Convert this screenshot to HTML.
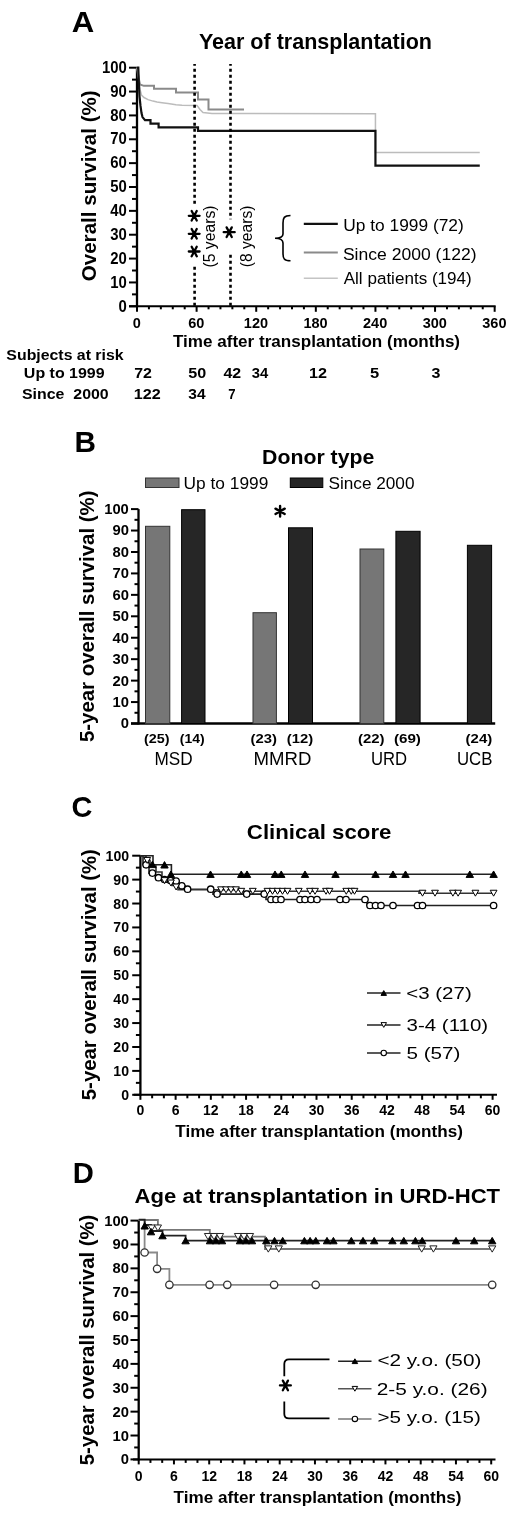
<!DOCTYPE html>
<html><head><meta charset="utf-8"><title>Figure</title><style>html,body{margin:0;padding:0;background:#fff;overflow:hidden}svg{display:block;filter:grayscale(1) blur(0.35px)}text{font-family:"Liberation Sans",sans-serif}</style></head><body>
<svg width="520" height="1515" viewBox="0 0 520 1515">
<rect width="520" height="1515" fill="#fff"/>
<text x="71.73" y="32.10" font-size="30.2" font-weight="bold" textLength="22.51" lengthAdjust="spacingAndGlyphs">A</text>
<text x="198.92" y="49.40" font-size="21.5" font-weight="bold" textLength="233.11" lengthAdjust="spacingAndGlyphs">Year of transplantation</text>
<line x1="137.00" y1="67.70" x2="137.00" y2="307.30" stroke="#000" stroke-width="2.3"/>
<line x1="129.00" y1="306.30" x2="137.00" y2="306.30" stroke="#000" stroke-width="2"/>
<text x="118.53" y="311.50" font-size="16" font-weight="bold" textLength="8.28" lengthAdjust="spacingAndGlyphs">0</text>
<line x1="132.00" y1="294.37" x2="137.00" y2="294.37" stroke="#000" stroke-width="2"/>
<line x1="129.00" y1="282.44" x2="137.00" y2="282.44" stroke="#000" stroke-width="2"/>
<text x="110.27" y="287.64" font-size="16" font-weight="bold" textLength="16.55" lengthAdjust="spacingAndGlyphs">10</text>
<line x1="132.00" y1="270.51" x2="137.00" y2="270.51" stroke="#000" stroke-width="2"/>
<line x1="129.00" y1="258.58" x2="137.00" y2="258.58" stroke="#000" stroke-width="2"/>
<text x="110.27" y="263.78" font-size="16" font-weight="bold" textLength="16.55" lengthAdjust="spacingAndGlyphs">20</text>
<line x1="132.00" y1="246.65" x2="137.00" y2="246.65" stroke="#000" stroke-width="2"/>
<line x1="129.00" y1="234.72" x2="137.00" y2="234.72" stroke="#000" stroke-width="2"/>
<text x="110.27" y="239.92" font-size="16" font-weight="bold" textLength="16.55" lengthAdjust="spacingAndGlyphs">30</text>
<line x1="132.00" y1="222.79" x2="137.00" y2="222.79" stroke="#000" stroke-width="2"/>
<line x1="129.00" y1="210.86" x2="137.00" y2="210.86" stroke="#000" stroke-width="2"/>
<text x="110.27" y="216.06" font-size="16" font-weight="bold" textLength="16.55" lengthAdjust="spacingAndGlyphs">40</text>
<line x1="132.00" y1="198.93" x2="137.00" y2="198.93" stroke="#000" stroke-width="2"/>
<line x1="129.00" y1="187.00" x2="137.00" y2="187.00" stroke="#000" stroke-width="2"/>
<text x="110.27" y="192.20" font-size="16" font-weight="bold" textLength="16.55" lengthAdjust="spacingAndGlyphs">50</text>
<line x1="132.00" y1="175.07" x2="137.00" y2="175.07" stroke="#000" stroke-width="2"/>
<line x1="129.00" y1="163.14" x2="137.00" y2="163.14" stroke="#000" stroke-width="2"/>
<text x="110.27" y="168.34" font-size="16" font-weight="bold" textLength="16.55" lengthAdjust="spacingAndGlyphs">60</text>
<line x1="132.00" y1="151.21" x2="137.00" y2="151.21" stroke="#000" stroke-width="2"/>
<line x1="129.00" y1="139.28" x2="137.00" y2="139.28" stroke="#000" stroke-width="2"/>
<text x="110.27" y="144.48" font-size="16" font-weight="bold" textLength="16.55" lengthAdjust="spacingAndGlyphs">70</text>
<line x1="132.00" y1="127.35" x2="137.00" y2="127.35" stroke="#000" stroke-width="2"/>
<line x1="129.00" y1="115.42" x2="137.00" y2="115.42" stroke="#000" stroke-width="2"/>
<text x="110.27" y="120.62" font-size="16" font-weight="bold" textLength="16.55" lengthAdjust="spacingAndGlyphs">80</text>
<line x1="132.00" y1="103.49" x2="137.00" y2="103.49" stroke="#000" stroke-width="2"/>
<line x1="129.00" y1="91.56" x2="137.00" y2="91.56" stroke="#000" stroke-width="2"/>
<text x="110.27" y="96.76" font-size="16" font-weight="bold" textLength="16.55" lengthAdjust="spacingAndGlyphs">90</text>
<line x1="132.00" y1="79.63" x2="137.00" y2="79.63" stroke="#000" stroke-width="2"/>
<line x1="129.00" y1="67.70" x2="137.00" y2="67.70" stroke="#000" stroke-width="2"/>
<text x="102.02" y="72.90" font-size="16" font-weight="bold" textLength="24.83" lengthAdjust="spacingAndGlyphs">100</text>
<line x1="129.00" y1="306.30" x2="495.66" y2="306.30" stroke="#000" stroke-width="2"/>
<line x1="137.00" y1="306.30" x2="137.00" y2="311.80" stroke="#000" stroke-width="2"/>
<text x="136.70" y="327.60" font-size="14.5" font-weight="bold" text-anchor="middle">0</text>
<line x1="148.92" y1="306.30" x2="148.92" y2="309.30" stroke="#000" stroke-width="2"/>
<line x1="160.84" y1="306.30" x2="160.84" y2="309.30" stroke="#000" stroke-width="2"/>
<line x1="172.77" y1="306.30" x2="172.77" y2="309.30" stroke="#000" stroke-width="2"/>
<line x1="184.69" y1="306.30" x2="184.69" y2="309.30" stroke="#000" stroke-width="2"/>
<line x1="196.61" y1="306.30" x2="196.61" y2="311.80" stroke="#000" stroke-width="2"/>
<text x="196.31" y="327.60" font-size="14.5" font-weight="bold" text-anchor="middle">60</text>
<line x1="208.53" y1="306.30" x2="208.53" y2="309.30" stroke="#000" stroke-width="2"/>
<line x1="220.45" y1="306.30" x2="220.45" y2="309.30" stroke="#000" stroke-width="2"/>
<line x1="232.38" y1="306.30" x2="232.38" y2="309.30" stroke="#000" stroke-width="2"/>
<line x1="244.30" y1="306.30" x2="244.30" y2="309.30" stroke="#000" stroke-width="2"/>
<line x1="256.22" y1="306.30" x2="256.22" y2="311.80" stroke="#000" stroke-width="2"/>
<text x="255.92" y="327.60" font-size="14.5" font-weight="bold" text-anchor="middle">120</text>
<line x1="268.14" y1="306.30" x2="268.14" y2="309.30" stroke="#000" stroke-width="2"/>
<line x1="280.06" y1="306.30" x2="280.06" y2="309.30" stroke="#000" stroke-width="2"/>
<line x1="291.99" y1="306.30" x2="291.99" y2="309.30" stroke="#000" stroke-width="2"/>
<line x1="303.91" y1="306.30" x2="303.91" y2="309.30" stroke="#000" stroke-width="2"/>
<line x1="315.83" y1="306.30" x2="315.83" y2="311.80" stroke="#000" stroke-width="2"/>
<text x="315.53" y="327.60" font-size="14.5" font-weight="bold" text-anchor="middle">180</text>
<line x1="327.75" y1="306.30" x2="327.75" y2="309.30" stroke="#000" stroke-width="2"/>
<line x1="339.67" y1="306.30" x2="339.67" y2="309.30" stroke="#000" stroke-width="2"/>
<line x1="351.60" y1="306.30" x2="351.60" y2="309.30" stroke="#000" stroke-width="2"/>
<line x1="363.52" y1="306.30" x2="363.52" y2="309.30" stroke="#000" stroke-width="2"/>
<line x1="375.44" y1="306.30" x2="375.44" y2="311.80" stroke="#000" stroke-width="2"/>
<text x="375.14" y="327.60" font-size="14.5" font-weight="bold" text-anchor="middle">240</text>
<line x1="387.36" y1="306.30" x2="387.36" y2="309.30" stroke="#000" stroke-width="2"/>
<line x1="399.28" y1="306.30" x2="399.28" y2="309.30" stroke="#000" stroke-width="2"/>
<line x1="411.21" y1="306.30" x2="411.21" y2="309.30" stroke="#000" stroke-width="2"/>
<line x1="423.13" y1="306.30" x2="423.13" y2="309.30" stroke="#000" stroke-width="2"/>
<line x1="435.05" y1="306.30" x2="435.05" y2="311.80" stroke="#000" stroke-width="2"/>
<text x="434.75" y="327.60" font-size="14.5" font-weight="bold" text-anchor="middle">300</text>
<line x1="446.97" y1="306.30" x2="446.97" y2="309.30" stroke="#000" stroke-width="2"/>
<line x1="458.89" y1="306.30" x2="458.89" y2="309.30" stroke="#000" stroke-width="2"/>
<line x1="470.82" y1="306.30" x2="470.82" y2="309.30" stroke="#000" stroke-width="2"/>
<line x1="482.74" y1="306.30" x2="482.74" y2="309.30" stroke="#000" stroke-width="2"/>
<line x1="494.66" y1="306.30" x2="494.66" y2="311.80" stroke="#000" stroke-width="2"/>
<text x="494.36" y="327.60" font-size="14.5" font-weight="bold" text-anchor="middle">360</text>
<text x="172.97" y="346.50" font-size="16.5" font-weight="bold" textLength="287.10" lengthAdjust="spacingAndGlyphs">Time after transplantation (months)</text>
<text x="95.60" y="281.26" font-size="21" font-weight="bold" textLength="190.99" lengthAdjust="spacingAndGlyphs" transform="rotate(-90 95.60 281.26)">Overall survival (%)</text>
<polyline points="137.00,67.70 138.00,72.47 139.00,79.63 140.00,89.17 141.50,95.14 144.00,97.53 148.00,99.67 153.00,101.10 157.00,102.06 162.00,102.77 168.00,103.49 176.00,104.68 182.00,105.16 197.00,105.40 200.00,109.46 203.00,112.56 212.00,113.51 375.44,113.75 375.44,152.40 479.76,152.40" fill="none" stroke="#bcbcbc" stroke-width="1.5" stroke-linejoin="miter"/>
<polyline points="137.00,67.70 138.50,77.24 140.00,84.40 143.80,85.83 154.00,85.83 154.00,88.70 176.00,88.70 176.00,92.51 198.00,92.51 198.00,99.43 208.50,99.43 208.50,109.46 244.00,109.46" fill="none" stroke="#8a8a8a" stroke-width="2" stroke-linejoin="miter"/>
<polyline points="137.00,67.70 138.30,67.70 138.80,82.02 139.50,96.33 140.50,105.88 141.50,113.03 142.50,117.09 145.00,120.19 150.50,120.19 150.50,123.53 158.60,123.53 158.60,127.35 198.00,127.35 198.00,130.93 375.44,130.93 375.44,165.53 479.76,165.53" fill="none" stroke="#111" stroke-width="2.2" stroke-linejoin="miter"/>
<line x1="194.6" y1="305.8" x2="194.6" y2="64" stroke="#000" stroke-width="2.6" stroke-dasharray="3 3"/>
<line x1="230.5" y1="305.8" x2="230.5" y2="64" stroke="#000" stroke-width="2.6" stroke-dasharray="3 3"/>
<rect x="186" y="204" width="18" height="60.5" fill="#fff"/>
<rect x="221" y="219.3" width="16" height="34" fill="#fff"/>
<path d="M188.80,215.80 L199.60,215.80 M191.66,211.03 L196.74,220.57 M196.74,211.03 L191.66,220.57 " stroke="#000" stroke-width="2.3" stroke-linecap="round" fill="none"/>
<path d="M188.80,233.80 L199.60,233.80 M191.66,229.03 L196.74,238.57 M196.74,229.03 L191.66,238.57 " stroke="#000" stroke-width="2.3" stroke-linecap="round" fill="none"/>
<path d="M188.80,251.50 L199.60,251.50 M191.66,246.73 L196.74,256.27 M196.74,246.73 L191.66,256.27 " stroke="#000" stroke-width="2.3" stroke-linecap="round" fill="none"/>
<path d="M223.70,232.20 L234.70,232.20 M226.62,227.34 L231.78,237.06 M231.78,227.34 L226.62,237.06 " stroke="#000" stroke-width="2.3" stroke-linecap="round" fill="none"/>
<text x="215.00" y="267.48" font-size="16" textLength="61.96" lengthAdjust="spacingAndGlyphs" transform="rotate(-90 215.00 267.48)">(5 years)</text>
<text x="252.10" y="267.18" font-size="16" textLength="61.65" lengthAdjust="spacingAndGlyphs" transform="rotate(-90 252.10 267.18)">(8 years)</text>
<path d="M290.5,215.5 C284,215.5 283,218 283,223 L283,234 C283,237 280,238.2 275,238.2 C280,238.2 283,240 283,243 L283,253.5 C283,258.5 284,260.8 290.5,260.8" fill="none" stroke="#000" stroke-width="1.6"/>
<line x1="303.80" y1="223.80" x2="337.80" y2="223.80" stroke="#111" stroke-width="2.2"/>
<line x1="303.80" y1="252.50" x2="337.80" y2="252.50" stroke="#8a8a8a" stroke-width="2"/>
<line x1="303.80" y1="278.30" x2="337.80" y2="278.30" stroke="#c4c4c4" stroke-width="1.5"/>
<text x="343.20" y="231.30" font-size="16.7" textLength="120.58" lengthAdjust="spacingAndGlyphs">Up to 1999 (72)</text>
<text x="342.91" y="259.80" font-size="16.7" textLength="133.60" lengthAdjust="spacingAndGlyphs">Since 2000 (122)</text>
<text x="343.70" y="283.80" font-size="16.7" textLength="128.08" lengthAdjust="spacingAndGlyphs">All patients (194)</text>
<text x="6.38" y="359.50" font-size="15.3" font-weight="bold" textLength="117.18" lengthAdjust="spacingAndGlyphs">Subjects at risk</text>
<text x="23.89" y="377.90" font-size="15.3" font-weight="bold" textLength="80.76" lengthAdjust="spacingAndGlyphs">Up to 1999</text>
<text x="21.98" y="398.60" font-size="15.3" font-weight="bold" textLength="86.75" lengthAdjust="spacingAndGlyphs" xml:space="preserve">Since  2000</text>
<text x="134.15" y="378.20" font-size="15.3" font-weight="bold" textLength="17.72" lengthAdjust="spacingAndGlyphs">72</text>
<text x="188.22" y="378.20" font-size="15.3" font-weight="bold" textLength="17.96" lengthAdjust="spacingAndGlyphs">50</text>
<text x="223.49" y="378.20" font-size="15.3" font-weight="bold" textLength="17.68" lengthAdjust="spacingAndGlyphs">42</text>
<text x="251.64" y="378.20" font-size="15.3" font-weight="bold" textLength="16.50" lengthAdjust="spacingAndGlyphs">34</text>
<text x="308.94" y="378.20" font-size="15.3" font-weight="bold" textLength="17.99" lengthAdjust="spacingAndGlyphs">12</text>
<text x="369.96" y="378.20" font-size="15.3" font-weight="bold" textLength="9.21" lengthAdjust="spacingAndGlyphs">5</text>
<text x="431.61" y="378.20" font-size="15.3" font-weight="bold" textLength="8.93" lengthAdjust="spacingAndGlyphs">3</text>
<text x="133.74" y="398.50" font-size="15.3" font-weight="bold" textLength="26.94" lengthAdjust="spacingAndGlyphs">122</text>
<text x="188.37" y="398.50" font-size="15.3" font-weight="bold" textLength="17.28" lengthAdjust="spacingAndGlyphs">34</text>
<text x="228.21" y="398.50" font-size="15.3" font-weight="bold" textLength="7.34" lengthAdjust="spacingAndGlyphs">7</text>
<text x="74.52" y="451.70" font-size="30" font-weight="bold" textLength="21.49" lengthAdjust="spacingAndGlyphs">B</text>
<text x="262.11" y="463.50" font-size="21" font-weight="bold" textLength="112.21" lengthAdjust="spacingAndGlyphs">Donor type</text>
<rect x="145.5" y="478" width="33.5" height="9.5" fill="#767676" stroke="#333" stroke-width="1"/>
<text x="183.60" y="488.70" font-size="17" textLength="84.71" lengthAdjust="spacingAndGlyphs">Up to 1999</text>
<rect x="290.3" y="478" width="32.5" height="9.5" fill="#262626" stroke="#000" stroke-width="1"/>
<text x="328.44" y="488.70" font-size="17" textLength="86.06" lengthAdjust="spacingAndGlyphs">Since 2000</text>
<line x1="138.50" y1="509.10" x2="138.50" y2="724.50" stroke="#000" stroke-width="2.3"/>
<line x1="131.00" y1="723.50" x2="138.50" y2="723.50" stroke="#000" stroke-width="2"/>
<text x="120.68" y="728.40" font-size="14.8" font-weight="bold" textLength="8.23" lengthAdjust="spacingAndGlyphs">0</text>
<line x1="134.50" y1="712.78" x2="138.50" y2="712.78" stroke="#000" stroke-width="2"/>
<line x1="131.00" y1="702.06" x2="138.50" y2="702.06" stroke="#000" stroke-width="2"/>
<text x="112.43" y="706.96" font-size="14.8" font-weight="bold" textLength="16.46" lengthAdjust="spacingAndGlyphs">10</text>
<line x1="134.50" y1="691.34" x2="138.50" y2="691.34" stroke="#000" stroke-width="2"/>
<line x1="131.00" y1="680.62" x2="138.50" y2="680.62" stroke="#000" stroke-width="2"/>
<text x="112.43" y="685.52" font-size="14.8" font-weight="bold" textLength="16.46" lengthAdjust="spacingAndGlyphs">20</text>
<line x1="134.50" y1="669.90" x2="138.50" y2="669.90" stroke="#000" stroke-width="2"/>
<line x1="131.00" y1="659.18" x2="138.50" y2="659.18" stroke="#000" stroke-width="2"/>
<text x="112.43" y="664.08" font-size="14.8" font-weight="bold" textLength="16.46" lengthAdjust="spacingAndGlyphs">30</text>
<line x1="134.50" y1="648.46" x2="138.50" y2="648.46" stroke="#000" stroke-width="2"/>
<line x1="131.00" y1="637.74" x2="138.50" y2="637.74" stroke="#000" stroke-width="2"/>
<text x="112.43" y="642.64" font-size="14.8" font-weight="bold" textLength="16.46" lengthAdjust="spacingAndGlyphs">40</text>
<line x1="134.50" y1="627.02" x2="138.50" y2="627.02" stroke="#000" stroke-width="2"/>
<line x1="131.00" y1="616.30" x2="138.50" y2="616.30" stroke="#000" stroke-width="2"/>
<text x="112.43" y="621.20" font-size="14.8" font-weight="bold" textLength="16.46" lengthAdjust="spacingAndGlyphs">50</text>
<line x1="134.50" y1="605.58" x2="138.50" y2="605.58" stroke="#000" stroke-width="2"/>
<line x1="131.00" y1="594.86" x2="138.50" y2="594.86" stroke="#000" stroke-width="2"/>
<text x="112.43" y="599.76" font-size="14.8" font-weight="bold" textLength="16.46" lengthAdjust="spacingAndGlyphs">60</text>
<line x1="134.50" y1="584.14" x2="138.50" y2="584.14" stroke="#000" stroke-width="2"/>
<line x1="131.00" y1="573.42" x2="138.50" y2="573.42" stroke="#000" stroke-width="2"/>
<text x="112.43" y="578.32" font-size="14.8" font-weight="bold" textLength="16.46" lengthAdjust="spacingAndGlyphs">70</text>
<line x1="134.50" y1="562.70" x2="138.50" y2="562.70" stroke="#000" stroke-width="2"/>
<line x1="131.00" y1="551.98" x2="138.50" y2="551.98" stroke="#000" stroke-width="2"/>
<text x="112.43" y="556.88" font-size="14.8" font-weight="bold" textLength="16.46" lengthAdjust="spacingAndGlyphs">80</text>
<line x1="134.50" y1="541.26" x2="138.50" y2="541.26" stroke="#000" stroke-width="2"/>
<line x1="131.00" y1="530.54" x2="138.50" y2="530.54" stroke="#000" stroke-width="2"/>
<text x="112.43" y="535.44" font-size="14.8" font-weight="bold" textLength="16.46" lengthAdjust="spacingAndGlyphs">90</text>
<line x1="134.50" y1="519.82" x2="138.50" y2="519.82" stroke="#000" stroke-width="2"/>
<line x1="131.00" y1="509.10" x2="138.50" y2="509.10" stroke="#000" stroke-width="2"/>
<text x="104.18" y="514.00" font-size="14.8" font-weight="bold" textLength="24.69" lengthAdjust="spacingAndGlyphs">100</text>
<line x1="131.00" y1="723.50" x2="495.20" y2="723.50" stroke="#000" stroke-width="2.4"/>
<rect x="145.50" y="526.30" width="24.30" height="197.20" fill="#767676" stroke="#333" stroke-width="1"/>
<rect x="181.60" y="509.70" width="23.40" height="213.80" fill="#262626" stroke="#000" stroke-width="1"/>
<rect x="253.00" y="612.70" width="23.40" height="110.80" fill="#767676" stroke="#333" stroke-width="1"/>
<rect x="288.50" y="527.80" width="24.00" height="195.70" fill="#262626" stroke="#000" stroke-width="1"/>
<rect x="360.00" y="549.00" width="23.80" height="174.50" fill="#767676" stroke="#333" stroke-width="1"/>
<rect x="395.90" y="531.30" width="24.20" height="192.20" fill="#262626" stroke="#000" stroke-width="1"/>
<rect x="467.40" y="545.30" width="24.20" height="178.20" fill="#262626" stroke="#000" stroke-width="1"/>
<path d="M280.1,506.00 L280.1,516.60 M275.51,508.65 L284.69,513.95 M284.69,508.65 L275.51,513.95" stroke="#000" stroke-width="2.4" stroke-linecap="round" fill="none"/>
<text x="144.04" y="743.00" font-size="13.5" font-weight="bold" textLength="25.54" lengthAdjust="spacingAndGlyphs">(25)</text>
<text x="179.75" y="743.00" font-size="13.5" font-weight="bold" textLength="24.80" lengthAdjust="spacingAndGlyphs">(14)</text>
<text x="250.56" y="743.00" font-size="13.5" font-weight="bold" textLength="26.38" lengthAdjust="spacingAndGlyphs">(23)</text>
<text x="286.81" y="743.00" font-size="13.5" font-weight="bold" textLength="26.38" lengthAdjust="spacingAndGlyphs">(12)</text>
<text x="357.91" y="743.00" font-size="13.5" font-weight="bold" textLength="26.59" lengthAdjust="spacingAndGlyphs">(22)</text>
<text x="393.90" y="743.00" font-size="13.5" font-weight="bold" textLength="27.02" lengthAdjust="spacingAndGlyphs">(69)</text>
<text x="465.61" y="743.00" font-size="13.5" font-weight="bold" textLength="26.59" lengthAdjust="spacingAndGlyphs">(24)</text>
<text x="154.55" y="765.40" font-size="17.5" textLength="38.12" lengthAdjust="spacingAndGlyphs">MSD</text>
<text x="253.54" y="765.40" font-size="17.5" textLength="57.82" lengthAdjust="spacingAndGlyphs">MMRD</text>
<text x="370.89" y="765.40" font-size="17.5" textLength="36.16" lengthAdjust="spacingAndGlyphs">URD</text>
<text x="456.98" y="765.40" font-size="17.5" textLength="35.43" lengthAdjust="spacingAndGlyphs">UCB</text>
<text x="94.40" y="742.01" font-size="21" font-weight="bold" textLength="251.49" lengthAdjust="spacingAndGlyphs" transform="rotate(-90 94.40 742.01)">5-year overall survival (%)</text>
<text x="71.49" y="817.30" font-size="30" font-weight="bold" textLength="20.89" lengthAdjust="spacingAndGlyphs">C</text>
<text x="246.87" y="838.50" font-size="21" font-weight="bold" textLength="144.55" lengthAdjust="spacingAndGlyphs">Clinical score</text>
<line x1="140.40" y1="855.70" x2="140.40" y2="1095.80" stroke="#000" stroke-width="2.3"/>
<line x1="132.20" y1="1094.80" x2="140.40" y2="1094.80" stroke="#000" stroke-width="2"/>
<text x="121.21" y="1099.80" font-size="15" font-weight="bold" textLength="7.84" lengthAdjust="spacingAndGlyphs">0</text>
<line x1="135.90" y1="1082.85" x2="140.40" y2="1082.85" stroke="#000" stroke-width="2"/>
<line x1="132.20" y1="1070.89" x2="140.40" y2="1070.89" stroke="#000" stroke-width="2"/>
<text x="113.34" y="1075.89" font-size="15" font-weight="bold" textLength="15.68" lengthAdjust="spacingAndGlyphs">10</text>
<line x1="135.90" y1="1058.93" x2="140.40" y2="1058.93" stroke="#000" stroke-width="2"/>
<line x1="132.20" y1="1046.98" x2="140.40" y2="1046.98" stroke="#000" stroke-width="2"/>
<text x="113.34" y="1051.98" font-size="15" font-weight="bold" textLength="15.68" lengthAdjust="spacingAndGlyphs">20</text>
<line x1="135.90" y1="1035.02" x2="140.40" y2="1035.02" stroke="#000" stroke-width="2"/>
<line x1="132.20" y1="1023.07" x2="140.40" y2="1023.07" stroke="#000" stroke-width="2"/>
<text x="113.34" y="1028.07" font-size="15" font-weight="bold" textLength="15.68" lengthAdjust="spacingAndGlyphs">30</text>
<line x1="135.90" y1="1011.12" x2="140.40" y2="1011.12" stroke="#000" stroke-width="2"/>
<line x1="132.20" y1="999.16" x2="140.40" y2="999.16" stroke="#000" stroke-width="2"/>
<text x="113.34" y="1004.16" font-size="15" font-weight="bold" textLength="15.68" lengthAdjust="spacingAndGlyphs">40</text>
<line x1="135.90" y1="987.20" x2="140.40" y2="987.20" stroke="#000" stroke-width="2"/>
<line x1="132.20" y1="975.25" x2="140.40" y2="975.25" stroke="#000" stroke-width="2"/>
<text x="113.34" y="980.25" font-size="15" font-weight="bold" textLength="15.68" lengthAdjust="spacingAndGlyphs">50</text>
<line x1="135.90" y1="963.29" x2="140.40" y2="963.29" stroke="#000" stroke-width="2"/>
<line x1="132.20" y1="951.34" x2="140.40" y2="951.34" stroke="#000" stroke-width="2"/>
<text x="113.34" y="956.34" font-size="15" font-weight="bold" textLength="15.68" lengthAdjust="spacingAndGlyphs">60</text>
<line x1="135.90" y1="939.38" x2="140.40" y2="939.38" stroke="#000" stroke-width="2"/>
<line x1="132.20" y1="927.43" x2="140.40" y2="927.43" stroke="#000" stroke-width="2"/>
<text x="113.34" y="932.43" font-size="15" font-weight="bold" textLength="15.68" lengthAdjust="spacingAndGlyphs">70</text>
<line x1="135.90" y1="915.47" x2="140.40" y2="915.47" stroke="#000" stroke-width="2"/>
<line x1="132.20" y1="903.52" x2="140.40" y2="903.52" stroke="#000" stroke-width="2"/>
<text x="113.34" y="908.52" font-size="15" font-weight="bold" textLength="15.68" lengthAdjust="spacingAndGlyphs">80</text>
<line x1="135.90" y1="891.56" x2="140.40" y2="891.56" stroke="#000" stroke-width="2"/>
<line x1="132.20" y1="879.61" x2="140.40" y2="879.61" stroke="#000" stroke-width="2"/>
<text x="113.34" y="884.61" font-size="15" font-weight="bold" textLength="15.68" lengthAdjust="spacingAndGlyphs">90</text>
<line x1="135.90" y1="867.65" x2="140.40" y2="867.65" stroke="#000" stroke-width="2"/>
<line x1="132.20" y1="855.70" x2="140.40" y2="855.70" stroke="#000" stroke-width="2"/>
<text x="105.59" y="860.70" font-size="15" font-weight="bold" textLength="23.53" lengthAdjust="spacingAndGlyphs">100</text>
<line x1="133.80" y1="1094.80" x2="497.00" y2="1094.80" stroke="#000" stroke-width="2"/>
<line x1="140.40" y1="1094.80" x2="140.40" y2="1099.80" stroke="#000" stroke-width="2"/>
<text x="140.40" y="1115.40" font-size="14" font-weight="bold" text-anchor="middle">0</text>
<line x1="152.14" y1="1094.80" x2="152.14" y2="1098.30" stroke="#000" stroke-width="2"/>
<line x1="163.88" y1="1094.80" x2="163.88" y2="1098.30" stroke="#000" stroke-width="2"/>
<line x1="175.62" y1="1094.80" x2="175.62" y2="1099.80" stroke="#000" stroke-width="2"/>
<text x="175.62" y="1115.40" font-size="14" font-weight="bold" text-anchor="middle">6</text>
<line x1="187.36" y1="1094.80" x2="187.36" y2="1098.30" stroke="#000" stroke-width="2"/>
<line x1="199.10" y1="1094.80" x2="199.10" y2="1098.30" stroke="#000" stroke-width="2"/>
<line x1="210.84" y1="1094.80" x2="210.84" y2="1099.80" stroke="#000" stroke-width="2"/>
<text x="210.84" y="1115.40" font-size="14" font-weight="bold" text-anchor="middle">12</text>
<line x1="222.58" y1="1094.80" x2="222.58" y2="1098.30" stroke="#000" stroke-width="2"/>
<line x1="234.32" y1="1094.80" x2="234.32" y2="1098.30" stroke="#000" stroke-width="2"/>
<line x1="246.06" y1="1094.80" x2="246.06" y2="1099.80" stroke="#000" stroke-width="2"/>
<text x="246.06" y="1115.40" font-size="14" font-weight="bold" text-anchor="middle">18</text>
<line x1="257.80" y1="1094.80" x2="257.80" y2="1098.30" stroke="#000" stroke-width="2"/>
<line x1="269.54" y1="1094.80" x2="269.54" y2="1098.30" stroke="#000" stroke-width="2"/>
<line x1="281.28" y1="1094.80" x2="281.28" y2="1099.80" stroke="#000" stroke-width="2"/>
<text x="281.28" y="1115.40" font-size="14" font-weight="bold" text-anchor="middle">24</text>
<line x1="293.02" y1="1094.80" x2="293.02" y2="1098.30" stroke="#000" stroke-width="2"/>
<line x1="304.76" y1="1094.80" x2="304.76" y2="1098.30" stroke="#000" stroke-width="2"/>
<line x1="316.50" y1="1094.80" x2="316.50" y2="1099.80" stroke="#000" stroke-width="2"/>
<text x="316.50" y="1115.40" font-size="14" font-weight="bold" text-anchor="middle">30</text>
<line x1="328.24" y1="1094.80" x2="328.24" y2="1098.30" stroke="#000" stroke-width="2"/>
<line x1="339.98" y1="1094.80" x2="339.98" y2="1098.30" stroke="#000" stroke-width="2"/>
<line x1="351.72" y1="1094.80" x2="351.72" y2="1099.80" stroke="#000" stroke-width="2"/>
<text x="351.72" y="1115.40" font-size="14" font-weight="bold" text-anchor="middle">36</text>
<line x1="363.46" y1="1094.80" x2="363.46" y2="1098.30" stroke="#000" stroke-width="2"/>
<line x1="375.20" y1="1094.80" x2="375.20" y2="1098.30" stroke="#000" stroke-width="2"/>
<line x1="386.94" y1="1094.80" x2="386.94" y2="1099.80" stroke="#000" stroke-width="2"/>
<text x="386.94" y="1115.40" font-size="14" font-weight="bold" text-anchor="middle">42</text>
<line x1="398.68" y1="1094.80" x2="398.68" y2="1098.30" stroke="#000" stroke-width="2"/>
<line x1="410.42" y1="1094.80" x2="410.42" y2="1098.30" stroke="#000" stroke-width="2"/>
<line x1="422.16" y1="1094.80" x2="422.16" y2="1099.80" stroke="#000" stroke-width="2"/>
<text x="422.16" y="1115.40" font-size="14" font-weight="bold" text-anchor="middle">48</text>
<line x1="433.90" y1="1094.80" x2="433.90" y2="1098.30" stroke="#000" stroke-width="2"/>
<line x1="445.64" y1="1094.80" x2="445.64" y2="1098.30" stroke="#000" stroke-width="2"/>
<line x1="457.38" y1="1094.80" x2="457.38" y2="1099.80" stroke="#000" stroke-width="2"/>
<text x="457.38" y="1115.40" font-size="14" font-weight="bold" text-anchor="middle">54</text>
<line x1="469.12" y1="1094.80" x2="469.12" y2="1098.30" stroke="#000" stroke-width="2"/>
<line x1="480.86" y1="1094.80" x2="480.86" y2="1098.30" stroke="#000" stroke-width="2"/>
<line x1="492.60" y1="1094.80" x2="492.60" y2="1099.80" stroke="#000" stroke-width="2"/>
<text x="492.60" y="1115.40" font-size="14" font-weight="bold" text-anchor="middle">60</text>
<text x="175.27" y="1136.80" font-size="16.5" font-weight="bold" textLength="287.61" lengthAdjust="spacingAndGlyphs">Time after transplantation (months)</text>
<text x="95.60" y="1100.21" font-size="21" font-weight="bold" textLength="251.09" lengthAdjust="spacingAndGlyphs" transform="rotate(-90 95.60 1100.21)">5-year overall survival (%)</text>
<polyline points="140.40,855.70 143.00,855.70 143.00,864.80 149.00,864.80 149.00,873.10 155.50,873.10 155.50,877.70 161.00,877.70 161.00,879.50 167.00,879.50 167.00,880.50 173.00,880.50 173.00,881.10 179.00,881.10 179.00,885.80 185.00,885.80 185.00,889.20 213.00,889.20 213.00,894.10 266.00,894.10 266.00,899.50 367.00,899.50 367.00,905.50 493.60,905.50" fill="none" stroke="#222" stroke-width="1.6" stroke-linejoin="miter"/>
<polyline points="140.40,855.70 146.00,855.70 146.00,860.40 150.00,860.40 150.00,866.00 156.00,866.00 156.00,872.00 162.00,872.00 162.00,878.00 166.00,878.00 166.00,882.00 172.00,882.00 172.00,885.50 178.00,885.50 178.00,889.80 240.00,889.80 240.00,891.30 419.00,891.30 419.00,893.20 493.60,893.20" fill="none" stroke="#333" stroke-width="1.6" stroke-linejoin="miter"/>
<polyline points="140.40,855.70 153.00,855.70 153.00,864.80 171.40,864.80 171.40,874.20 493.60,874.20" fill="none" stroke="#222" stroke-width="1.6" stroke-linejoin="miter"/>
<circle cx="146.10" cy="864.80" r="3.2" fill="#fff" stroke="#000" stroke-width="1.3"/>
<circle cx="152.40" cy="873.10" r="3.2" fill="#fff" stroke="#000" stroke-width="1.3"/>
<circle cx="158.50" cy="877.70" r="3.2" fill="#fff" stroke="#000" stroke-width="1.3"/>
<circle cx="164.50" cy="879.50" r="3.2" fill="#fff" stroke="#000" stroke-width="1.3"/>
<circle cx="170.50" cy="880.50" r="3.2" fill="#fff" stroke="#000" stroke-width="1.3"/>
<circle cx="176.10" cy="881.10" r="3.2" fill="#fff" stroke="#000" stroke-width="1.3"/>
<circle cx="181.80" cy="885.80" r="3.2" fill="#fff" stroke="#000" stroke-width="1.3"/>
<circle cx="187.60" cy="889.20" r="3.2" fill="#fff" stroke="#000" stroke-width="1.3"/>
<circle cx="210.70" cy="889.20" r="3.2" fill="#fff" stroke="#000" stroke-width="1.3"/>
<circle cx="217.10" cy="894.10" r="3.2" fill="#fff" stroke="#000" stroke-width="1.3"/>
<circle cx="246.70" cy="894.10" r="3.2" fill="#fff" stroke="#000" stroke-width="1.3"/>
<circle cx="264.20" cy="894.10" r="3.2" fill="#fff" stroke="#000" stroke-width="1.3"/>
<circle cx="271.00" cy="899.50" r="3.2" fill="#fff" stroke="#000" stroke-width="1.3"/>
<circle cx="276.00" cy="899.50" r="3.2" fill="#fff" stroke="#000" stroke-width="1.3"/>
<circle cx="281.00" cy="899.50" r="3.2" fill="#fff" stroke="#000" stroke-width="1.3"/>
<circle cx="300.00" cy="899.50" r="3.2" fill="#fff" stroke="#000" stroke-width="1.3"/>
<circle cx="305.00" cy="899.50" r="3.2" fill="#fff" stroke="#000" stroke-width="1.3"/>
<circle cx="311.00" cy="899.50" r="3.2" fill="#fff" stroke="#000" stroke-width="1.3"/>
<circle cx="317.00" cy="899.50" r="3.2" fill="#fff" stroke="#000" stroke-width="1.3"/>
<circle cx="340.00" cy="899.50" r="3.2" fill="#fff" stroke="#000" stroke-width="1.3"/>
<circle cx="346.00" cy="899.50" r="3.2" fill="#fff" stroke="#000" stroke-width="1.3"/>
<circle cx="365.00" cy="899.50" r="3.2" fill="#fff" stroke="#000" stroke-width="1.3"/>
<circle cx="370.00" cy="905.50" r="3.2" fill="#fff" stroke="#000" stroke-width="1.3"/>
<circle cx="375.50" cy="905.50" r="3.2" fill="#fff" stroke="#000" stroke-width="1.3"/>
<circle cx="381.00" cy="905.50" r="3.2" fill="#fff" stroke="#000" stroke-width="1.3"/>
<circle cx="393.00" cy="905.50" r="3.2" fill="#fff" stroke="#000" stroke-width="1.3"/>
<circle cx="417.50" cy="905.50" r="3.2" fill="#fff" stroke="#000" stroke-width="1.3"/>
<circle cx="422.50" cy="905.50" r="3.2" fill="#fff" stroke="#000" stroke-width="1.3"/>
<circle cx="493.60" cy="905.50" r="3.2" fill="#fff" stroke="#000" stroke-width="1.3"/>
<path d="M143.80,857.44 L150.60,857.44 L147.20,863.36 Z" fill="#fff" stroke="#000" stroke-width="1"/>
<path d="M161.10,877.64 L167.90,877.64 L164.50,883.56 Z" fill="#fff" stroke="#000" stroke-width="1"/>
<path d="M167.50,880.04 L174.30,880.04 L170.90,885.96 Z" fill="#fff" stroke="#000" stroke-width="1"/>
<path d="M172.70,884.04 L179.50,884.04 L176.10,889.96 Z" fill="#fff" stroke="#000" stroke-width="1"/>
<path d="M217.60,886.84 L224.40,886.84 L221.00,892.76 Z" fill="#fff" stroke="#000" stroke-width="1"/>
<path d="M222.60,886.84 L229.40,886.84 L226.00,892.76 Z" fill="#fff" stroke="#000" stroke-width="1"/>
<path d="M227.60,886.84 L234.40,886.84 L231.00,892.76 Z" fill="#fff" stroke="#000" stroke-width="1"/>
<path d="M232.60,886.84 L239.40,886.84 L236.00,892.76 Z" fill="#fff" stroke="#000" stroke-width="1"/>
<path d="M237.90,888.34 L244.70,888.34 L241.30,894.26 Z" fill="#fff" stroke="#000" stroke-width="1"/>
<path d="M249.40,888.34 L256.20,888.34 L252.80,894.26 Z" fill="#fff" stroke="#000" stroke-width="1"/>
<path d="M264.10,888.34 L270.90,888.34 L267.50,894.26 Z" fill="#fff" stroke="#000" stroke-width="1"/>
<path d="M269.10,888.34 L275.90,888.34 L272.50,894.26 Z" fill="#fff" stroke="#000" stroke-width="1"/>
<path d="M274.10,888.34 L280.90,888.34 L277.50,894.26 Z" fill="#fff" stroke="#000" stroke-width="1"/>
<path d="M279.10,888.34 L285.90,888.34 L282.50,894.26 Z" fill="#fff" stroke="#000" stroke-width="1"/>
<path d="M284.10,888.34 L290.90,888.34 L287.50,894.26 Z" fill="#fff" stroke="#000" stroke-width="1"/>
<path d="M295.35,888.34 L302.15,888.34 L298.75,894.26 Z" fill="#fff" stroke="#000" stroke-width="1"/>
<path d="M306.60,888.34 L313.40,888.34 L310.00,894.26 Z" fill="#fff" stroke="#000" stroke-width="1"/>
<path d="M311.60,888.34 L318.40,888.34 L315.00,894.26 Z" fill="#fff" stroke="#000" stroke-width="1"/>
<path d="M322.60,888.34 L329.40,888.34 L326.00,894.26 Z" fill="#fff" stroke="#000" stroke-width="1"/>
<path d="M326.10,888.34 L332.90,888.34 L329.50,894.26 Z" fill="#fff" stroke="#000" stroke-width="1"/>
<path d="M342.85,888.34 L349.65,888.34 L346.25,894.26 Z" fill="#fff" stroke="#000" stroke-width="1"/>
<path d="M347.85,888.34 L354.65,888.34 L351.25,894.26 Z" fill="#fff" stroke="#000" stroke-width="1"/>
<path d="M351.10,888.34 L357.90,888.34 L354.50,894.26 Z" fill="#fff" stroke="#000" stroke-width="1"/>
<path d="M419.10,890.24 L425.90,890.24 L422.50,896.16 Z" fill="#fff" stroke="#000" stroke-width="1"/>
<path d="M431.60,890.24 L438.40,890.24 L435.00,896.16 Z" fill="#fff" stroke="#000" stroke-width="1"/>
<path d="M449.50,890.24 L456.30,890.24 L452.90,896.16 Z" fill="#fff" stroke="#000" stroke-width="1"/>
<path d="M454.70,890.24 L461.50,890.24 L458.10,896.16 Z" fill="#fff" stroke="#000" stroke-width="1"/>
<path d="M472.00,890.24 L478.80,890.24 L475.40,896.16 Z" fill="#fff" stroke="#000" stroke-width="1"/>
<path d="M490.20,890.24 L497.00,890.24 L493.60,896.16 Z" fill="#fff" stroke="#000" stroke-width="1"/>
<path d="M148.70,867.62 L156.10,867.62 L152.40,861.18 Z" fill="#000" stroke="#000" stroke-width="1"/>
<path d="M160.80,868.02 L168.20,868.02 L164.50,861.58 Z" fill="#000" stroke="#000" stroke-width="1"/>
<path d="M167.20,877.42 L174.60,877.42 L170.90,870.98 Z" fill="#000" stroke="#000" stroke-width="1"/>
<path d="M206.80,877.42 L214.20,877.42 L210.50,870.98 Z" fill="#000" stroke="#000" stroke-width="1"/>
<path d="M237.55,877.42 L244.95,877.42 L241.25,870.98 Z" fill="#000" stroke="#000" stroke-width="1"/>
<path d="M243.30,877.42 L250.70,877.42 L247.00,870.98 Z" fill="#000" stroke="#000" stroke-width="1"/>
<path d="M271.30,877.42 L278.70,877.42 L275.00,870.98 Z" fill="#000" stroke="#000" stroke-width="1"/>
<path d="M277.55,877.42 L284.95,877.42 L281.25,870.98 Z" fill="#000" stroke="#000" stroke-width="1"/>
<path d="M301.30,877.42 L308.70,877.42 L305.00,870.98 Z" fill="#000" stroke="#000" stroke-width="1"/>
<path d="M331.80,877.42 L339.20,877.42 L335.50,870.98 Z" fill="#000" stroke="#000" stroke-width="1"/>
<path d="M371.80,877.42 L379.20,877.42 L375.50,870.98 Z" fill="#000" stroke="#000" stroke-width="1"/>
<path d="M389.30,877.42 L396.70,877.42 L393.00,870.98 Z" fill="#000" stroke="#000" stroke-width="1"/>
<path d="M401.80,877.42 L409.20,877.42 L405.50,870.98 Z" fill="#000" stroke="#000" stroke-width="1"/>
<path d="M466.10,877.42 L473.50,877.42 L469.80,870.98 Z" fill="#000" stroke="#000" stroke-width="1"/>
<path d="M489.90,877.42 L497.30,877.42 L493.60,870.98 Z" fill="#000" stroke="#000" stroke-width="1"/>
<line x1="367.00" y1="993.00" x2="400.50" y2="993.00" stroke="#222" stroke-width="1.5"/>
<path d="M381.00,995.39 L386.50,995.39 L383.75,990.61 Z" fill="#000" stroke="#000" stroke-width="1"/>
<line x1="367.00" y1="1025.00" x2="400.50" y2="1025.00" stroke="#222" stroke-width="1.5"/>
<path d="M381.00,1022.61 L386.50,1022.61 L383.75,1027.39 Z" fill="#fff" stroke="#000" stroke-width="1"/>
<line x1="367.00" y1="1053.00" x2="400.50" y2="1053.00" stroke="#222" stroke-width="1.5"/>
<circle cx="383.75" cy="1053.00" r="2.7" fill="#fff" stroke="#000" stroke-width="1.1"/>
<text x="406.25" y="999.10" font-size="17" textLength="65.46" lengthAdjust="spacingAndGlyphs">&lt;3 (27)</text>
<text x="406.55" y="1031.20" font-size="17" textLength="81.57" lengthAdjust="spacingAndGlyphs">3-4 (110)</text>
<text x="406.49" y="1058.80" font-size="17" textLength="53.97" lengthAdjust="spacingAndGlyphs">5 (57)</text>
<text x="72.85" y="1183.30" font-size="30" font-weight="bold" textLength="21.11" lengthAdjust="spacingAndGlyphs">D</text>
<text x="134.54" y="1203.30" font-size="21" font-weight="bold" textLength="365.54" lengthAdjust="spacingAndGlyphs">Age at transplantation in URD-HCT</text>
<line x1="138.70" y1="1220.60" x2="138.70" y2="1460.40" stroke="#000" stroke-width="2.3"/>
<line x1="130.50" y1="1459.40" x2="138.70" y2="1459.40" stroke="#000" stroke-width="2"/>
<text x="120.68" y="1464.40" font-size="14.8" font-weight="bold" textLength="8.23" lengthAdjust="spacingAndGlyphs">0</text>
<line x1="134.20" y1="1447.46" x2="138.70" y2="1447.46" stroke="#000" stroke-width="2"/>
<line x1="130.50" y1="1435.52" x2="138.70" y2="1435.52" stroke="#000" stroke-width="2"/>
<text x="112.43" y="1440.52" font-size="14.8" font-weight="bold" textLength="16.46" lengthAdjust="spacingAndGlyphs">10</text>
<line x1="134.20" y1="1423.58" x2="138.70" y2="1423.58" stroke="#000" stroke-width="2"/>
<line x1="130.50" y1="1411.64" x2="138.70" y2="1411.64" stroke="#000" stroke-width="2"/>
<text x="112.43" y="1416.64" font-size="14.8" font-weight="bold" textLength="16.46" lengthAdjust="spacingAndGlyphs">20</text>
<line x1="134.20" y1="1399.70" x2="138.70" y2="1399.70" stroke="#000" stroke-width="2"/>
<line x1="130.50" y1="1387.76" x2="138.70" y2="1387.76" stroke="#000" stroke-width="2"/>
<text x="112.43" y="1392.76" font-size="14.8" font-weight="bold" textLength="16.46" lengthAdjust="spacingAndGlyphs">30</text>
<line x1="134.20" y1="1375.82" x2="138.70" y2="1375.82" stroke="#000" stroke-width="2"/>
<line x1="130.50" y1="1363.88" x2="138.70" y2="1363.88" stroke="#000" stroke-width="2"/>
<text x="112.43" y="1368.88" font-size="14.8" font-weight="bold" textLength="16.46" lengthAdjust="spacingAndGlyphs">40</text>
<line x1="134.20" y1="1351.94" x2="138.70" y2="1351.94" stroke="#000" stroke-width="2"/>
<line x1="130.50" y1="1340.00" x2="138.70" y2="1340.00" stroke="#000" stroke-width="2"/>
<text x="112.43" y="1345.00" font-size="14.8" font-weight="bold" textLength="16.46" lengthAdjust="spacingAndGlyphs">50</text>
<line x1="134.20" y1="1328.06" x2="138.70" y2="1328.06" stroke="#000" stroke-width="2"/>
<line x1="130.50" y1="1316.12" x2="138.70" y2="1316.12" stroke="#000" stroke-width="2"/>
<text x="112.43" y="1321.12" font-size="14.8" font-weight="bold" textLength="16.46" lengthAdjust="spacingAndGlyphs">60</text>
<line x1="134.20" y1="1304.18" x2="138.70" y2="1304.18" stroke="#000" stroke-width="2"/>
<line x1="130.50" y1="1292.24" x2="138.70" y2="1292.24" stroke="#000" stroke-width="2"/>
<text x="112.43" y="1297.24" font-size="14.8" font-weight="bold" textLength="16.46" lengthAdjust="spacingAndGlyphs">70</text>
<line x1="134.20" y1="1280.30" x2="138.70" y2="1280.30" stroke="#000" stroke-width="2"/>
<line x1="130.50" y1="1268.36" x2="138.70" y2="1268.36" stroke="#000" stroke-width="2"/>
<text x="112.43" y="1273.36" font-size="14.8" font-weight="bold" textLength="16.46" lengthAdjust="spacingAndGlyphs">80</text>
<line x1="134.20" y1="1256.42" x2="138.70" y2="1256.42" stroke="#000" stroke-width="2"/>
<line x1="130.50" y1="1244.48" x2="138.70" y2="1244.48" stroke="#000" stroke-width="2"/>
<text x="112.43" y="1249.48" font-size="14.8" font-weight="bold" textLength="16.46" lengthAdjust="spacingAndGlyphs">90</text>
<line x1="134.20" y1="1232.54" x2="138.70" y2="1232.54" stroke="#000" stroke-width="2"/>
<line x1="130.50" y1="1220.60" x2="138.70" y2="1220.60" stroke="#000" stroke-width="2"/>
<text x="104.18" y="1225.60" font-size="14.8" font-weight="bold" textLength="24.69" lengthAdjust="spacingAndGlyphs">100</text>
<line x1="133.00" y1="1459.40" x2="495.50" y2="1459.40" stroke="#000" stroke-width="2"/>
<line x1="138.70" y1="1459.40" x2="138.70" y2="1464.40" stroke="#000" stroke-width="2"/>
<text x="138.70" y="1481.20" font-size="14" font-weight="bold" text-anchor="middle">0</text>
<line x1="150.45" y1="1459.40" x2="150.45" y2="1462.90" stroke="#000" stroke-width="2"/>
<line x1="162.20" y1="1459.40" x2="162.20" y2="1462.90" stroke="#000" stroke-width="2"/>
<line x1="173.95" y1="1459.40" x2="173.95" y2="1464.40" stroke="#000" stroke-width="2"/>
<text x="173.95" y="1481.20" font-size="14" font-weight="bold" text-anchor="middle">6</text>
<line x1="185.70" y1="1459.40" x2="185.70" y2="1462.90" stroke="#000" stroke-width="2"/>
<line x1="197.45" y1="1459.40" x2="197.45" y2="1462.90" stroke="#000" stroke-width="2"/>
<line x1="209.20" y1="1459.40" x2="209.20" y2="1464.40" stroke="#000" stroke-width="2"/>
<text x="209.20" y="1481.20" font-size="14" font-weight="bold" text-anchor="middle">12</text>
<line x1="220.95" y1="1459.40" x2="220.95" y2="1462.90" stroke="#000" stroke-width="2"/>
<line x1="232.70" y1="1459.40" x2="232.70" y2="1462.90" stroke="#000" stroke-width="2"/>
<line x1="244.45" y1="1459.40" x2="244.45" y2="1464.40" stroke="#000" stroke-width="2"/>
<text x="244.45" y="1481.20" font-size="14" font-weight="bold" text-anchor="middle">18</text>
<line x1="256.20" y1="1459.40" x2="256.20" y2="1462.90" stroke="#000" stroke-width="2"/>
<line x1="267.95" y1="1459.40" x2="267.95" y2="1462.90" stroke="#000" stroke-width="2"/>
<line x1="279.70" y1="1459.40" x2="279.70" y2="1464.40" stroke="#000" stroke-width="2"/>
<text x="279.70" y="1481.20" font-size="14" font-weight="bold" text-anchor="middle">24</text>
<line x1="291.45" y1="1459.40" x2="291.45" y2="1462.90" stroke="#000" stroke-width="2"/>
<line x1="303.20" y1="1459.40" x2="303.20" y2="1462.90" stroke="#000" stroke-width="2"/>
<line x1="314.95" y1="1459.40" x2="314.95" y2="1464.40" stroke="#000" stroke-width="2"/>
<text x="314.95" y="1481.20" font-size="14" font-weight="bold" text-anchor="middle">30</text>
<line x1="326.70" y1="1459.40" x2="326.70" y2="1462.90" stroke="#000" stroke-width="2"/>
<line x1="338.45" y1="1459.40" x2="338.45" y2="1462.90" stroke="#000" stroke-width="2"/>
<line x1="350.20" y1="1459.40" x2="350.20" y2="1464.40" stroke="#000" stroke-width="2"/>
<text x="350.20" y="1481.20" font-size="14" font-weight="bold" text-anchor="middle">36</text>
<line x1="361.95" y1="1459.40" x2="361.95" y2="1462.90" stroke="#000" stroke-width="2"/>
<line x1="373.70" y1="1459.40" x2="373.70" y2="1462.90" stroke="#000" stroke-width="2"/>
<line x1="385.45" y1="1459.40" x2="385.45" y2="1464.40" stroke="#000" stroke-width="2"/>
<text x="385.45" y="1481.20" font-size="14" font-weight="bold" text-anchor="middle">42</text>
<line x1="397.20" y1="1459.40" x2="397.20" y2="1462.90" stroke="#000" stroke-width="2"/>
<line x1="408.95" y1="1459.40" x2="408.95" y2="1462.90" stroke="#000" stroke-width="2"/>
<line x1="420.70" y1="1459.40" x2="420.70" y2="1464.40" stroke="#000" stroke-width="2"/>
<text x="420.70" y="1481.20" font-size="14" font-weight="bold" text-anchor="middle">48</text>
<line x1="432.45" y1="1459.40" x2="432.45" y2="1462.90" stroke="#000" stroke-width="2"/>
<line x1="444.20" y1="1459.40" x2="444.20" y2="1462.90" stroke="#000" stroke-width="2"/>
<line x1="455.95" y1="1459.40" x2="455.95" y2="1464.40" stroke="#000" stroke-width="2"/>
<text x="455.95" y="1481.20" font-size="14" font-weight="bold" text-anchor="middle">54</text>
<line x1="467.70" y1="1459.40" x2="467.70" y2="1462.90" stroke="#000" stroke-width="2"/>
<line x1="479.45" y1="1459.40" x2="479.45" y2="1462.90" stroke="#000" stroke-width="2"/>
<line x1="491.20" y1="1459.40" x2="491.20" y2="1464.40" stroke="#000" stroke-width="2"/>
<text x="491.20" y="1481.20" font-size="14" font-weight="bold" text-anchor="middle">60</text>
<text x="173.62" y="1502.50" font-size="16.5" font-weight="bold" textLength="287.76" lengthAdjust="spacingAndGlyphs">Time after transplantation (months)</text>
<text x="94.10" y="1465.20" font-size="21" font-weight="bold" textLength="250.48" lengthAdjust="spacingAndGlyphs" transform="rotate(-90 94.10 1465.20)">5-year overall survival (%)</text>
<polyline points="138.70,1220.00 144.60,1220.00 144.60,1252.50 157.10,1252.50 157.10,1268.80 169.40,1268.80 169.40,1284.80 492.20,1284.80" fill="none" stroke="#8a8a8a" stroke-width="1.8" stroke-linejoin="miter"/>
<polyline points="138.70,1220.00 157.90,1220.00 157.90,1229.80 209.80,1229.80 209.80,1236.60 265.00,1236.60 265.00,1249.00 492.20,1249.00" fill="none" stroke="#777" stroke-width="1.8" stroke-linejoin="miter"/>
<polyline points="138.70,1219.60 144.70,1219.60 144.70,1225.00 151.00,1225.00 151.00,1231.00 162.50,1231.00 162.50,1235.60 185.60,1235.60 185.60,1240.60 492.20,1240.60" fill="none" stroke="#222" stroke-width="1.8" stroke-linejoin="miter"/>
<circle cx="144.60" cy="1252.50" r="3.7" fill="#fff" stroke="#333" stroke-width="1.3"/>
<circle cx="157.10" cy="1268.80" r="3.7" fill="#fff" stroke="#333" stroke-width="1.3"/>
<circle cx="169.40" cy="1284.80" r="3.7" fill="#fff" stroke="#333" stroke-width="1.3"/>
<circle cx="209.60" cy="1284.80" r="3.7" fill="#fff" stroke="#333" stroke-width="1.3"/>
<circle cx="227.30" cy="1284.80" r="3.7" fill="#fff" stroke="#333" stroke-width="1.3"/>
<circle cx="274.10" cy="1284.80" r="3.7" fill="#fff" stroke="#333" stroke-width="1.3"/>
<circle cx="315.70" cy="1284.80" r="3.7" fill="#fff" stroke="#333" stroke-width="1.3"/>
<circle cx="492.20" cy="1284.80" r="3.7" fill="#fff" stroke="#333" stroke-width="1.3"/>
<path d="M148.00,1224.97 L155.20,1224.97 L151.60,1231.23 Z" fill="#fff" stroke="#222" stroke-width="1"/>
<path d="M154.30,1224.97 L161.50,1224.97 L157.90,1231.23 Z" fill="#fff" stroke="#222" stroke-width="1"/>
<path d="M204.40,1233.47 L211.60,1233.47 L208.00,1239.73 Z" fill="#fff" stroke="#222" stroke-width="1"/>
<path d="M210.40,1233.47 L217.60,1233.47 L214.00,1239.73 Z" fill="#fff" stroke="#222" stroke-width="1"/>
<path d="M216.40,1233.47 L223.60,1233.47 L220.00,1239.73 Z" fill="#fff" stroke="#222" stroke-width="1"/>
<path d="M234.40,1233.47 L241.60,1233.47 L238.00,1239.73 Z" fill="#fff" stroke="#222" stroke-width="1"/>
<path d="M240.40,1233.47 L247.60,1233.47 L244.00,1239.73 Z" fill="#fff" stroke="#222" stroke-width="1"/>
<path d="M246.40,1233.47 L253.60,1233.47 L250.00,1239.73 Z" fill="#fff" stroke="#222" stroke-width="1"/>
<path d="M264.70,1245.87 L271.90,1245.87 L268.30,1252.13 Z" fill="#fff" stroke="#222" stroke-width="1"/>
<path d="M275.20,1245.87 L282.40,1245.87 L278.80,1252.13 Z" fill="#fff" stroke="#222" stroke-width="1"/>
<path d="M418.10,1245.87 L425.30,1245.87 L421.70,1252.13 Z" fill="#fff" stroke="#222" stroke-width="1"/>
<path d="M429.80,1245.87 L437.00,1245.87 L433.40,1252.13 Z" fill="#fff" stroke="#222" stroke-width="1"/>
<path d="M488.60,1245.87 L495.80,1245.87 L492.20,1252.13 Z" fill="#fff" stroke="#222" stroke-width="1"/>
<path d="M141.00,1229.02 L148.40,1229.02 L144.70,1222.58 Z" fill="#000" stroke="#000" stroke-width="1"/>
<path d="M147.30,1234.82 L154.70,1234.82 L151.00,1228.38 Z" fill="#000" stroke="#000" stroke-width="1"/>
<path d="M158.80,1238.82 L166.20,1238.82 L162.50,1232.38 Z" fill="#000" stroke="#000" stroke-width="1"/>
<path d="M181.90,1243.82 L189.30,1243.82 L185.60,1237.38 Z" fill="#000" stroke="#000" stroke-width="1"/>
<path d="M206.30,1243.82 L213.70,1243.82 L210.00,1237.38 Z" fill="#000" stroke="#000" stroke-width="1"/>
<path d="M212.30,1243.82 L219.70,1243.82 L216.00,1237.38 Z" fill="#000" stroke="#000" stroke-width="1"/>
<path d="M218.30,1243.82 L225.70,1243.82 L222.00,1237.38 Z" fill="#000" stroke="#000" stroke-width="1"/>
<path d="M236.30,1243.82 L243.70,1243.82 L240.00,1237.38 Z" fill="#000" stroke="#000" stroke-width="1"/>
<path d="M242.30,1243.82 L249.70,1243.82 L246.00,1237.38 Z" fill="#000" stroke="#000" stroke-width="1"/>
<path d="M248.30,1243.82 L255.70,1243.82 L252.00,1237.38 Z" fill="#000" stroke="#000" stroke-width="1"/>
<path d="M262.60,1243.82 L270.00,1243.82 L266.30,1237.38 Z" fill="#000" stroke="#000" stroke-width="1"/>
<path d="M270.80,1243.82 L278.20,1243.82 L274.50,1237.38 Z" fill="#000" stroke="#000" stroke-width="1"/>
<path d="M279.00,1243.82 L286.40,1243.82 L282.70,1237.38 Z" fill="#000" stroke="#000" stroke-width="1"/>
<path d="M300.70,1243.82 L308.10,1243.82 L304.40,1237.38 Z" fill="#000" stroke="#000" stroke-width="1"/>
<path d="M306.40,1243.82 L313.80,1243.82 L310.10,1237.38 Z" fill="#000" stroke="#000" stroke-width="1"/>
<path d="M312.10,1243.82 L319.50,1243.82 L315.80,1237.38 Z" fill="#000" stroke="#000" stroke-width="1"/>
<path d="M323.30,1243.82 L330.70,1243.82 L327.00,1237.38 Z" fill="#000" stroke="#000" stroke-width="1"/>
<path d="M329.70,1243.82 L337.10,1243.82 L333.40,1237.38 Z" fill="#000" stroke="#000" stroke-width="1"/>
<path d="M347.60,1243.82 L355.00,1243.82 L351.30,1237.38 Z" fill="#000" stroke="#000" stroke-width="1"/>
<path d="M359.30,1243.82 L366.70,1243.82 L363.00,1237.38 Z" fill="#000" stroke="#000" stroke-width="1"/>
<path d="M370.50,1243.82 L377.90,1243.82 L374.20,1237.38 Z" fill="#000" stroke="#000" stroke-width="1"/>
<path d="M388.70,1243.82 L396.10,1243.82 L392.40,1237.38 Z" fill="#000" stroke="#000" stroke-width="1"/>
<path d="M400.10,1243.82 L407.50,1243.82 L403.80,1237.38 Z" fill="#000" stroke="#000" stroke-width="1"/>
<path d="M411.70,1243.82 L419.10,1243.82 L415.40,1237.38 Z" fill="#000" stroke="#000" stroke-width="1"/>
<path d="M418.50,1243.82 L425.90,1243.82 L422.20,1237.38 Z" fill="#000" stroke="#000" stroke-width="1"/>
<path d="M452.30,1243.82 L459.70,1243.82 L456.00,1237.38 Z" fill="#000" stroke="#000" stroke-width="1"/>
<path d="M470.50,1243.82 L477.90,1243.82 L474.20,1237.38 Z" fill="#000" stroke="#000" stroke-width="1"/>
<path d="M488.50,1243.82 L495.90,1243.82 L492.20,1237.38 Z" fill="#000" stroke="#000" stroke-width="1"/>
<line x1="338.10" y1="1361.20" x2="371.50" y2="1361.20" stroke="#222" stroke-width="1.5"/>
<path d="M352.15,1363.59 L357.65,1363.59 L354.90,1358.81 Z" fill="#000" stroke="#000" stroke-width="1"/>
<line x1="338.10" y1="1388.80" x2="371.50" y2="1388.80" stroke="#555" stroke-width="1.5"/>
<path d="M352.15,1386.41 L357.65,1386.41 L354.90,1391.19 Z" fill="#fff" stroke="#000" stroke-width="1"/>
<line x1="338.10" y1="1418.90" x2="371.50" y2="1418.90" stroke="#777" stroke-width="1.5"/>
<circle cx="354.90" cy="1418.90" r="2.7" fill="#fff" stroke="#000" stroke-width="1.1"/>
<text x="377.40" y="1366.20" font-size="16.5" textLength="103.94" lengthAdjust="spacingAndGlyphs">&lt;2 y.o. (50)</text>
<text x="376.69" y="1394.80" font-size="16.5" textLength="110.90" lengthAdjust="spacingAndGlyphs">2-5 y.o. (26)</text>
<text x="377.40" y="1423.00" font-size="16.5" textLength="103.53" lengthAdjust="spacingAndGlyphs">&gt;5 y.o. (15)</text>
<path d="M329.5,1359.3 L289,1359.3 Q284.3,1359.3 284.3,1364 L284.3,1376.2 M284.3,1401.5 L284.3,1414 Q284.3,1418.4 289,1418.4 L329.5,1418.4" fill="none" stroke="#000" stroke-width="1.8"/>
<path d="M279.95,1385.40 L290.85,1385.40 M282.84,1380.59 L287.96,1390.21 M287.96,1380.59 L282.84,1390.21 " stroke="#000" stroke-width="2.3" stroke-linecap="round" fill="none"/>
</svg></body></html>
